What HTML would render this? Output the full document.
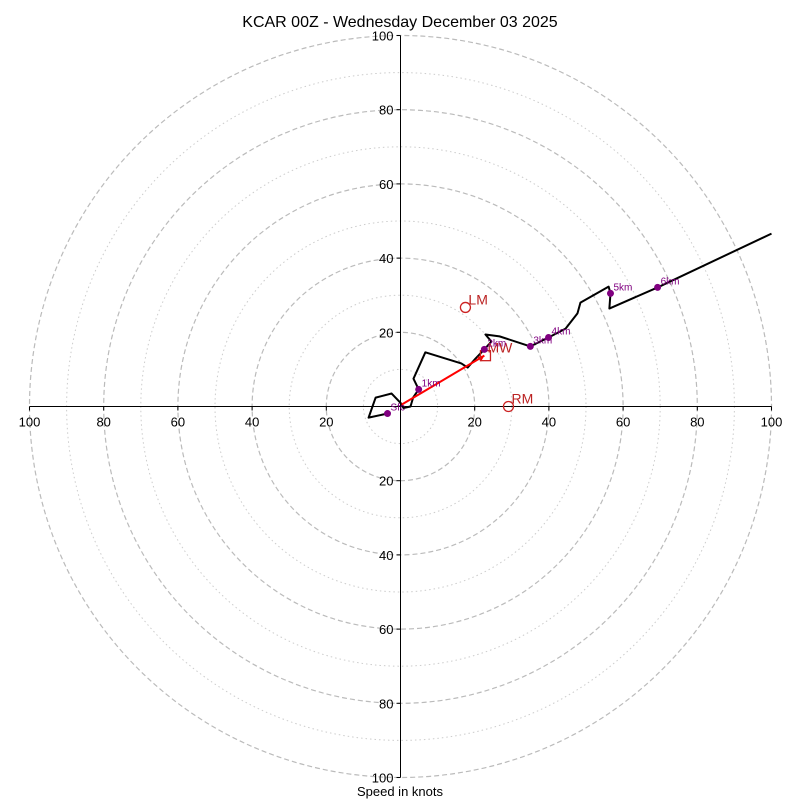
<!DOCTYPE html>
<html><head><meta charset="utf-8"><style>
body{margin:0;background:#fff;}
svg{display:block;font-family:"Liberation Sans","DejaVu Sans",sans-serif;}
</style></head><body>
<svg id="chart" width="800" height="800" xmlns="http://www.w3.org/2000/svg">
<text x="400" y="27" text-anchor="middle" font-size="16">KCAR 00Z - Wednesday December 03 2025</text>
<text x="400" y="796" text-anchor="middle" font-size="13">Speed in knots</text>
<g id="rings"></g>
<g id="axes"></g>
<g id="trace"></g>
</svg>
<script>
const traceU=[-3.5,-8.6,-6.7,-2.4,0.0,0.8,2.7,3.4,4.9,3.5,6.7,16.4,18.1,20.2,22.6,24.5,22.9,26.7,35.0,39.9,44.5,47.7,48.5,56.1,56.6,56.3,69.3,100];
const traceV=[-1.9,-3.0,2.4,3.5,1.0,-0.4,0.0,2.4,4.6,7.5,14.6,11.6,10.5,12.9,15.4,17.5,19.4,18.9,16.2,18.6,21.0,25.1,28.0,32.3,30.5,26.4,32.1,46.6];
const markerLabels=["Sfc","1km","2km","3km","4km","5km","6km"];
const markerU=[-3.5,4.9,22.6,35.0,39.9,56.6,69.3];
const markerV=[-1.9,4.6,15.4,16.2,18.6,30.5,32.1];
const meanWind=[22.9,13.7];
const leftMover=[17.5,26.7];
const rightMover=[29.1,0.0];
const ringSpeeds=[10,20,30,40,50,60,70,80,90,100];
const tickLabels=[20,40,60,80,100];

const CX=400.5,CY=406.5,S=3.71;
const sx=u=>CX+u*S, sy=v=>CY-v*S;
const NS="http://www.w3.org/2000/svg";
function mk(tag,attrs,parent){const e=document.createElementNS(NS,tag);for(const k in attrs)e.setAttribute(k,attrs[k]);parent.appendChild(e);return e;}
const rings=document.getElementById('rings'),axes=document.getElementById('axes'),trace=document.getElementById('trace');
ringSpeeds.forEach(s=>{
  const c=mk('circle',{cx:CX,cy:CY,r:s*S,fill:'none',stroke:s%20===0?'#bbb':'#ccc','stroke-width':s%20===0?1.2:1,'stroke-dasharray':s%20===0?'5,3':'1.5,3'},rings);
  
  
});
const h=mk('line',{x1:sx(-100),y1:CY,x2:sx(100),y2:CY,stroke:'#000','stroke-width':1,'shape-rendering':'crispEdges'},axes);


const v=mk('line',{x1:CX,y1:sy(100),x2:CX,y2:sy(-100),stroke:'#000','stroke-width':1,'shape-rendering':'crispEdges'},axes);


tickLabels.forEach(t=>{
  [-1,1].forEach(d=>{
    mk('line',{x1:sx(d*t),y1:CY,x2:sx(d*t),y2:CY+4,stroke:'#000'},axes);
    const tx=mk('text',{x:sx(d*t),y:CY+20,'text-anchor':'middle','font-size':13},axes);
    tx.textContent=t;
    
    
    mk('line',{x1:CX-4,y1:sy(d*t),x2:CX,y2:sy(d*t),stroke:'#000'},axes);
    const ty=mk('text',{x:CX-7,y:sy(d*t)+5,'text-anchor':'end','font-size':13},axes);
    ty.textContent=t;
    
    
  });
});
const pts=traceU.map((u,i)=>sx(u)+','+sy(traceV[i])).join(' ');
const pl=mk('polyline',{points:pts,fill:'none',stroke:'#000','stroke-width':2,'stroke-linejoin':'round'},trace);


const ar=mk('line',{x1:sx(0.3),y1:sy(0.5),x2:sx(meanWind[0]-0.3),y2:sy(meanWind[1]),stroke:'#f00','stroke-width':2},trace);


mk('polygon',{points:`${sx(meanWind[0]-0.3)},${sy(meanWind[1])} ${sx(meanWind[0]-2.2)},${sy(meanWind[1]-0.3)} ${sx(meanWind[0]-1.2)},${sy(meanWind[1]-1.6)}`,fill:'#f00'},trace);
const mw=mk('rect',{x:sx(meanWind[0])-5,y:sy(meanWind[1])-5,width:10,height:10,fill:'none',stroke:'#c22','stroke-width':1.3},trace);


const mwt=mk('text',{x:sx(meanWind[0])+2,y:sy(meanWind[1])-3,fill:'#b22','font-size':14},trace);mwt.textContent='MW';
[[leftMover,'LM'],[rightMover,'RM']].forEach(([p,n])=>{
  const c=mk('circle',{cx:sx(p[0]),cy:sy(p[1]),r:5,fill:'none',stroke:'#c22','stroke-width':1.3},trace);
  
  
  const t=mk('text',{x:sx(p[0])+3,y:sy(p[1])-3,fill:'#b22','font-size':14},trace);t.textContent=n;
});
markerU.forEach((u,i)=>{
  const c=mk('circle',{cx:sx(u),cy:sy(markerV[i]),r:3.5,fill:'#800080'},trace);
  
  
  const t=mk('text',{x:sx(u)+3,y:sy(markerV[i])-3,fill:'#800080','font-size':10},trace);
  t.textContent=markerLabels[i];
});
</script>
</body></html>
